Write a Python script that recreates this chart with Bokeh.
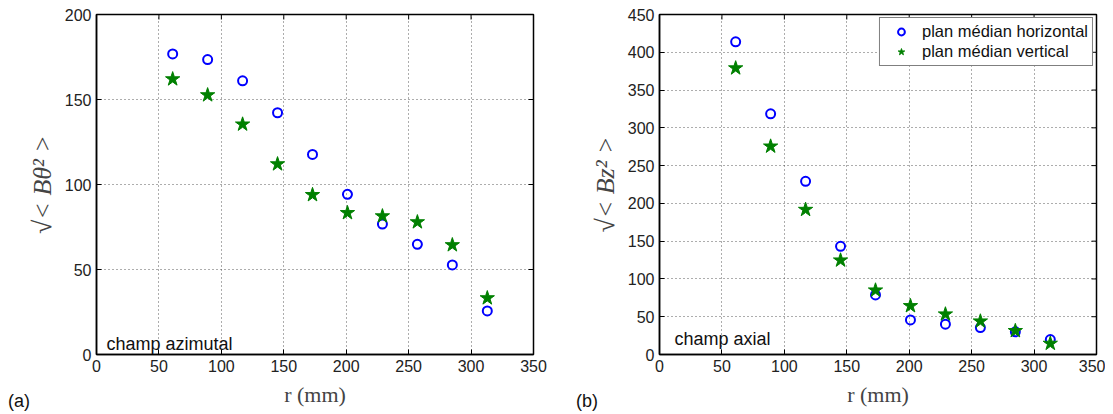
import math
from bokeh.plotting import figure
from bokeh.layouts import row, column
from bokeh.models import Range1d, Label, Legend, LegendItem, Div
from bokeh.embed import file_html
from bokeh.resources import INLINE

# ---- data ----
r_mm = [61, 89, 117, 145, 173, 201, 229, 257, 285, 313]
btheta_horiz = [176.8, 173.5, 161.0, 142.2, 117.7, 94.2, 76.7, 64.8, 52.7, 25.6]
btheta_vert = [162.0, 152.6, 135.4, 112.0, 93.9, 83.3, 81.4, 77.9, 64.4, 33.2]
bz_horiz = [413.8, 318.6, 229.2, 143.2, 78.9, 45.8, 40.1, 35.7, 30.0, 19.8]
bz_vert = [379.0, 275.5, 191.7, 124.7, 85.0, 64.3, 53.3, 44.0, 31.3, 14.5]
x_ticks = [0, 50, 100, 150, 200, 250, 300, 350]
y_ticks_a = [0, 50, 100, 150, 200]
y_ticks_b = [0, 50, 100, 150, 200, 250, 300, 350, 400, 450]
series_names = ["plan médian horizontal", "plan médian vertical"]

SANS = "Liberation Sans"
SERIF = "Liberation Serif"
BLUE = "#0000ff"
GREEN = "#008000"


def make_fig(y_ticks, ylabel, width, left_border, right_border, note, note_xy):
    xmax, ymax = x_ticks[-1], y_ticks[-1]
    p = figure(width=width, height=404,
               x_range=Range1d(0, xmax), y_range=Range1d(0, ymax),
               output_backend="svg", toolbar_location=None,
               min_border_left=left_border, min_border_right=right_border,
               min_border_top=6, min_border_bottom=58,
               background_fill_color="white", border_fill_color="white")
    p.outline_line_color = "black"
    p.outline_line_width = 1.5

    p.xaxis.ticker = x_ticks
    p.yaxis.ticker = y_ticks
    for ax in (p.xaxis[0], p.yaxis[0]):
        ax.major_tick_in = 5
        ax.major_tick_out = 0
        ax.minor_tick_line_color = None
        ax.axis_line_color = "black"
        ax.axis_line_width = 1.5
        ax.major_tick_line_color = "black"
        ax.major_label_text_font = SANS
        ax.major_label_text_font_size = "16px"
        ax.major_label_text_color = "#222222"
    p.xaxis.major_label_standoff = 5
    p.yaxis.major_label_standoff = 5
    p.xaxis.axis_label = "r (mm)"
    p.xaxis.axis_label_text_font = SERIF
    p.xaxis.axis_label_text_font_style = "normal"
    p.xaxis.axis_label_text_font_size = "22px"
    p.xaxis.axis_label_standoff = 7
    p.yaxis.axis_label = ylabel
    p.yaxis.axis_label_text_font = SERIF
    p.yaxis.axis_label_text_font_style = "italic"
    p.yaxis.axis_label_text_font_size = "26px"
    p.yaxis.axis_label_standoff = 5

    p.xgrid.ticker = x_ticks
    p.ygrid.ticker = y_ticks
    p.grid.grid_line_color = "#333333"
    p.grid.grid_line_dash = "1 3"
    p.grid.grid_line_width = 1
    p.grid.grid_line_alpha = 0.8

    # inward box ticks on top and right edges (half of each dash is clipped away)
    p.scatter(x_ticks, [ymax] * len(x_ticks), marker="dash", angle=math.pi / 2,
              size=10, line_color="black", line_width=1)
    p.scatter([xmax] * len(y_ticks), y_ticks, marker="dash", angle=0,
              size=10, line_color="black", line_width=1)

    p.add_layout(Label(x=note_xy[0], y=note_xy[1], x_units="screen", y_units="screen",
                       text=note, text_font=SANS, text_font_size="18px",
                       text_baseline="alphabetic", text_color="#111111"))
    return p


p1 = make_fig(y_ticks_a, "√< Bθ² >", 548, 88, 23, "champ azimutal", (10, 11))
c1 = p1.scatter(r_mm, btheta_horiz, marker="circle", size=9, fill_color=None,
                line_color=BLUE, line_width=2)
s1 = p1.scatter(r_mm, btheta_vert, marker="star", size=15, fill_color=GREEN,
                line_color=GREEN, line_width=1)

p2 = make_fig(y_ticks_b, "√< Bz² >", 549, 103, 9, "champ axial", (15, 16))
c2 = p2.scatter(r_mm, bz_horiz, marker="circle", size=9, fill_color=None,
                line_color=BLUE, line_width=2)
s2 = p2.scatter(r_mm, bz_vert, marker="star", size=15, fill_color=GREEN,
                line_color=GREEN, line_width=1)

legend = Legend(items=[LegendItem(label=series_names[0], renderers=[c2]),
                       LegendItem(label=series_names[1], renderers=[s2])],
                location="top_right")
legend.margin = 3
legend.padding = 4
legend.spacing = 1
legend.label_height = 17
legend.glyph_height = 17
legend.glyph_width = 34
legend.label_standoff = 4
legend.label_text_font = SANS
legend.label_text_font_size = "16.5px"
legend.label_text_color = "#111111"
legend.border_line_color = "black"
legend.border_line_width = 1.5
legend.background_fill_alpha = 1
p2.add_layout(legend, "center")


def tag_div(txt, left):
    html = ('<span style="font-family: \'Liberation Sans\'; font-size: 18px; '
            'color: #111111; line-height: 19px;">%s</span>' % txt)
    return Div(text=html, width=30, height=19, margin=(-20, 0, 0, left))


tag_a = tag_div("(a)", 0)
tag_b = tag_div("(b)", 538)

layout = column(row(p1, p2, spacing=0), row(tag_a, tag_b, spacing=0), spacing=0,
                margin=(8, 0, 0, 8))
open("out.html", "w").write(file_html(layout, INLINE))
